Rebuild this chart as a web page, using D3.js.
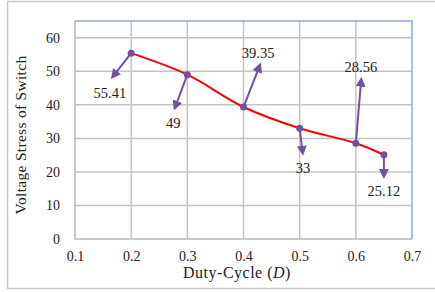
<!DOCTYPE html>
<html>
<head>
<meta charset="utf-8">
<script src="https://cdn.jsdelivr.net/npm/d3@7"></script>
<style>
  body { margin: 0; background: #fff; }
  text { font-family: "Liberation Serif", "Times New Roman", serif; fill: #222; }
</style>
</head>
<body>
<div id="chart"></div>
<script>
// data
var dutyCycle = [0.2, 0.3, 0.4, 0.5, 0.6, 0.65];
var voltageStress = [55.41, 49, 39.35, 33, 28.56, 25.12];
var valueLabels = ["55.41", "49", "39.35", "33", "28.56", "25.12"];
// callout placement, in data units (duty-cycle, volts)
var labelX = [0.162, 0.275, 0.426, 0.506, 0.609, 0.650];
var labelY = [43.6, 34.5, 55.5, 21.1, 51.2, 14.4];
var arrowTipX = [0.164, 0.276, 0.431, 0.506, 0.610, 0.650];
var arrowTipY = [47.7, 38.3, 52.6, 24.8, 48.4, 17.9];
var xTicks = [0.1, 0.2, 0.3, 0.4, 0.5, 0.6, 0.7];
var yTicks = [0, 10, 20, 30, 40, 50, 60];

var width = 435, height = 292;
var margin = { top: 21, right: 23, bottom: 53, left: 75 };

var svg = d3.select("#chart").append("svg")
    .attr("width", width)
    .attr("height", height);

// outer frame (right edge runs off the picture)
svg.append("rect")
    .attr("x", 7.5).attr("y", 1.5)
    .attr("width", 440).attr("height", 287)
    .attr("fill", "none")
    .attr("stroke", "#c8c8c8")
    .attr("stroke-width", 1.5);

var x = d3.scaleLinear().domain([0.1, 0.7]).range([margin.left, width - margin.right]);
var y = d3.scaleLinear().domain([0, 65]).range([height - margin.bottom, margin.top]);

// grid
svg.append("g").selectAll("line")
    .data(xTicks.slice(1, -1)).enter().append("line")
    .attr("x1", d => x(d)).attr("x2", d => x(d))
    .attr("y1", y(0)).attr("y2", y(65))
    .attr("stroke", "#c4c4c4").attr("stroke-width", 1.5);

svg.append("g").selectAll("line")
    .data(yTicks.slice(1)).enter().append("line")
    .attr("x1", x(0.1)).attr("x2", x(0.7))
    .attr("y1", d => y(d)).attr("y2", d => y(d))
    .attr("stroke", "#c4c4c4").attr("stroke-width", 1.5);

// plot frame: grey left/bottom, blue top/right
svg.append("path")
    .attr("d", `M${x(0.1)},${y(65)}V${y(0)}H${x(0.7)}`)
    .attr("fill", "none").attr("stroke", "#b8b8b8").attr("stroke-width", 1.5);
svg.append("path")
    .attr("d", `M${x(0.1)},${y(65)}H${x(0.7)}V${y(0)}`)
    .attr("fill", "none").attr("stroke", "#8eaad8").attr("stroke-width", 1.5);

// axes (labels only)
var xAxis = svg.append("g")
    .attr("transform", "translate(0," + (y(0) + 9) + ")")
    .call(d3.axisBottom(x).tickValues(xTicks).tickSize(0).tickFormat(d3.format(".1f")));
xAxis.select(".domain").remove();
xAxis.selectAll("text").style("font-size", "14px").attr("font-family", null).attr("fill", "#222");

var yAxis = svg.append("g")
    .attr("transform", "translate(" + (x(0.1) - 12) + ",0)")
    .call(d3.axisLeft(y).tickValues(yTicks).tickSize(0));
yAxis.select(".domain").remove();
yAxis.selectAll("text").style("font-size", "14px").attr("font-family", null).attr("fill", "#222");

// axis titles
svg.append("text")
    .attr("transform", "translate(26,135) rotate(-90)")
    .attr("text-anchor", "middle")
    .style("font-size", "15.5px")
    .style("letter-spacing", "0.3px")
    .text("Voltage Stress of Switch");

var xt = svg.append("text")
    .attr("x", 237).attr("y", 278)
    .attr("text-anchor", "middle")
    .style("font-size", "16px")
    .style("letter-spacing", "0.5px");
xt.append("tspan").text("Duty-Cycle (");
xt.append("tspan").style("font-style", "italic").text("D");
xt.append("tspan").text(")");

var points = dutyCycle.map((d, i) => ({
    x: d, y: voltageStress[i], label: valueLabels[i],
    lx: labelX[i], ly: labelY[i], tx: arrowTipX[i], ty: arrowTipY[i]
}));

// red curve
svg.append("path")
    .datum(points)
    .attr("d", d3.line().x(d => x(d.x)).y(d => y(d.y)).curve(d3.curveCatmullRom.alpha(0.5)))
    .attr("fill", "none")
    .attr("stroke", "#ff0000")
    .attr("stroke-width", 2);

var purple = "#7451a0";

// arrow head, tip sits at the line end
svg.append("defs").append("marker")
    .attr("id", "arrow")
    .attr("viewBox", "0 0 10 10")
    .attr("refX", 7).attr("refY", 5)
    .attr("markerWidth", 10).attr("markerHeight", 10)
    .attr("markerUnits", "userSpaceOnUse")
    .attr("orient", "auto")
    .append("path")
    .attr("d", "M0,0L10,5L0,10Z")
    .attr("fill", purple);

// arrows from point to label
svg.append("g").selectAll("line")
    .data(points).enter().append("line")
    .attr("x1", d => x(d.x)).attr("y1", d => y(d.y))
    .attr("x2", d => {
        var dx = x(d.tx) - x(d.x), dy = y(d.ty) - y(d.y), len = Math.hypot(dx, dy);
        return x(d.tx) - dx / len * 3;
    })
    .attr("y2", d => {
        var dx = x(d.tx) - x(d.x), dy = y(d.ty) - y(d.y), len = Math.hypot(dx, dy);
        return y(d.ty) - dy / len * 3;
    })
    .attr("stroke", purple)
    .attr("stroke-width", 2)
    .attr("marker-end", "url(#arrow)");

svg.append("g").selectAll("circle")
    .data(points).enter().append("circle")
    .attr("cx", d => x(d.x)).attr("cy", d => y(d.y))
    .attr("r", 3.5)
    .attr("fill", purple);

svg.append("g").selectAll("text")
    .data(points).enter().append("text")
    .attr("x", d => x(d.lx))
    .attr("y", d => y(d.ly))
    .attr("dy", "0.35em")
    .attr("text-anchor", "middle")
    .style("font-size", "14.5px")
    .text(d => d.label);
</script>
</body>
</html>
